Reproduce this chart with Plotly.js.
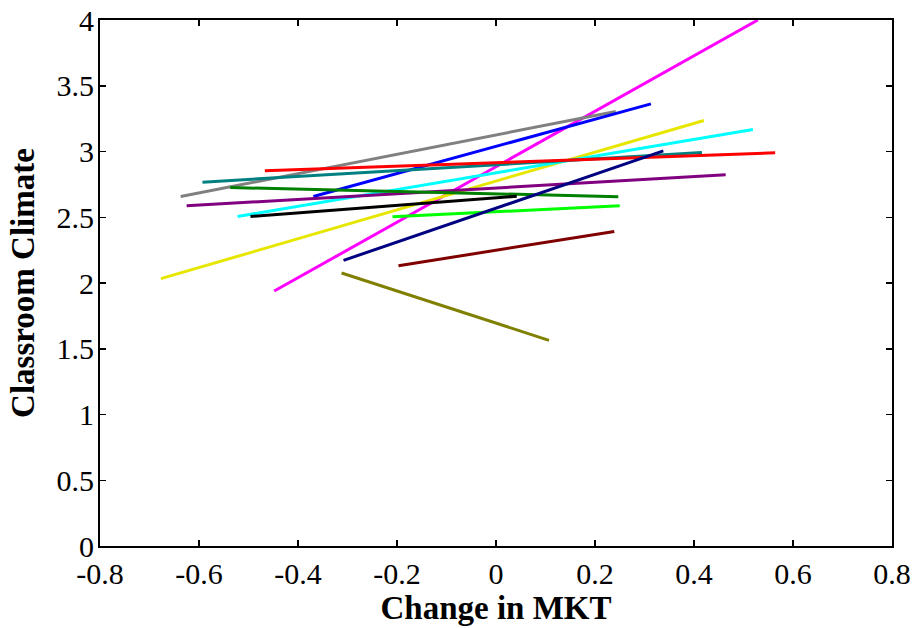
<!DOCTYPE html>
<html>
<head>
<meta charset="utf-8">
<script src="https://cdn.plot.ly/plotly-3.0.1.min.js"></script>
<style>html,body{margin:0;padding:0;background:#fff;}#chart{width:912px;height:628px;}</style>
</head>
<body>
<div id="chart"></div>
<script>
// Each series: [x_start, x_end], [y_start, y_end]
const seriesNames = ["magenta","gray","blue","yellow","cyan","teal","red","purple","green","black","lime","navy","maroon","olive"];
const seriesColors = ["#FF00FF","#808080","#0000FF","#E6E600","#00FFFF","#008080","#FF0000","#800080","#008000","#000000","#00FF00","#000080","#800000","#808000"];
const xStart = [-0.448,-0.637,-0.369,-0.677,-0.522,-0.593,-0.467,-0.625,-0.537,-0.496,-0.209,-0.308,-0.197,-0.312];
const xEnd   = [ 0.529, 0.242, 0.313, 0.420, 0.519, 0.416, 0.564, 0.464, 0.247, 0.042, 0.250, 0.338, 0.239, 0.107];
const yStart = [ 1.939, 2.658, 2.658, 2.033, 2.506, 2.767, 2.853, 2.587, 2.726, 2.506, 2.504, 2.172, 2.131, 2.076];
const yEnd   = [ 4.000, 3.304, 3.362, 3.236, 3.167, 2.992, 2.990, 2.823, 2.656, 2.660, 2.587, 3.005, 2.392, 1.564];
const xTicks = [-0.8,-0.6,-0.4,-0.2,0,0.2,0.4,0.6,0.8];
const xTickText = ["-0.8","-0.6","-0.4","-0.2","0","0.2","0.4","0.6","0.8"];
const yTicks = [0,0.5,1,1.5,2,2.5,3,3.5,4];
const yTickText = ["0","0.5","1","1.5","2","2.5","3","3.5","4"];

const traces = seriesNames.map((n,i)=>({
  type:'scatter', mode:'lines', name:n,
  x:[xStart[i], xEnd[i]], y:[yStart[i], yEnd[i]],
  line:{color:seriesColors[i], width:3}, showlegend:false
}));

const fam = '"Liberation Serif","Times New Roman",serif';
const tickFont = {family:fam, size:30, color:'#000'};
const titleFont = {family:fam, size:33, color:'#000'};
const axisCommon = {
  showgrid:false, zeroline:false, showline:true, linecolor:'#000', linewidth:2,
  mirror:'ticks', ticks:'inside', ticklen:6, tickwidth:1.5, tickcolor:'#000',
  tickfont:tickFont, tickmode:'array', automargin:false
};
const layout = {
  width:912, height:628,
  margin:{l:100, r:20, t:20, b:82},
  paper_bgcolor:'#fff', plot_bgcolor:'#fff',
  font:tickFont,
  xaxis:Object.assign({}, axisCommon, {
    range:[-0.8,0.8], tickvals:xTicks, ticktext:xTickText,
    title:{text:'<b>Change in MKT</b>', font:titleFont, standoff:0}
  }),
  yaxis:Object.assign({}, axisCommon, {
    range:[0,4], tickvals:yTicks, ticktext:yTickText, ticklabelstandoff:-2,
    title:{text:'<b>Classroom Climate</b>', font:titleFont, standoff:12}
  })
};
Plotly.newPlot('chart', traces, layout, {displayModeBar:false, staticPlot:true});
</script>
</body>
</html>
